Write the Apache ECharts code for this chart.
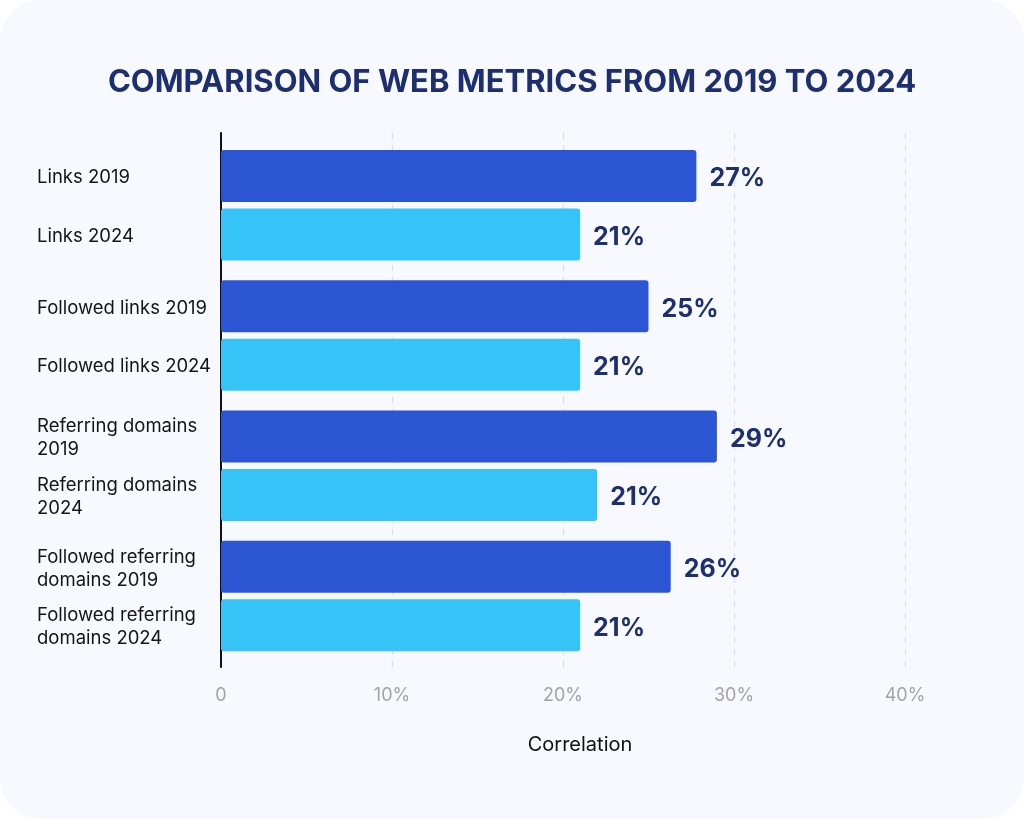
<!DOCTYPE html>
<html>
<head>
<meta charset="utf-8">
<script src="https://cdn.jsdelivr.net/npm/echarts@6/dist/echarts.min.js"></script>
<style>
  html, body { margin: 0; padding: 0; background: #ffffff; }
  #chart { width: 1024px; height: 819px; background: #f8f9fe; border-radius: 40px; overflow: hidden; }
</style>
</head>
<body>
<div id="chart"></div>
<script>
// one entry per bar pair
var names_2019 = ['Links 2019', 'Followed links 2019', 'Referring domains\n2019', 'Followed referring\ndomains 2019'];
var names_2024 = ['Links 2024', 'Followed links 2024', 'Referring domains\n2024', 'Followed referring\ndomains 2024'];
var values_2019 = [27.8, 25.0, 29.0, 26.3];
var values_2024 = [21.0, 21.0, 22.0, 21.0];
var labels_2019 = ['27%', '25%', '29%', '26%'];
var labels_2024 = ['21%', '21%', '21%', '21%'];
var x_ticks = [0, 10, 20, 30, 40];

var bar_width = 52;
var bar_pitch = 58.5;   // distance between centres of the two bars in a pair
var text_line = 23;

// spacer line between the two names of a pair, so each name sits on its bar
function pair_gap(i) {
    var n = names_2019[i].split('\n').length + names_2024[i].split('\n').length;
    return bar_pitch - text_line * n / 2;
}

function pair_label(i) {
    var lines = [];
    names_2019[i].split('\n').forEach(function (s) { lines.push('{t|' + s + '}'); });
    lines.push('{g' + i + '| }');
    names_2024[i].split('\n').forEach(function (s) { lines.push('{t|' + s + '}'); });
    return lines.join('\n');
}

var pair_keys = names_2019.map(function (n, i) { return String(i); });

var label_rich = {
    t: { fontFamily: 'Inter', fontSize: 18.5, lineHeight: text_line, color: '#151515', align: 'left' }
};
pair_keys.forEach(function (k, i) {
    label_rich['g' + i] = { fontSize: 8, lineHeight: pair_gap(i) };
});

var chart = echarts.init(document.getElementById('chart'));
chart.setOption({
    animation: false,
    title: {
        text: 'COMPARISON OF WEB METRICS FROM 2019 TO 2024',
        left: 'center', top: 62,
        textStyle: { fontFamily: 'Inter', fontWeight: 'bold', fontSize: 31, color: '#1d2f6f' }
    },
    grid: [
        { left: 221, right: 119, top: 133, bottom: 152 },
        { left: 221, right: 119, top: 140, bottom: 158 }
    ],
    xAxis: [
        {
            gridIndex: 0, type: 'value', min: x_ticks[0], max: x_ticks[x_ticks.length - 1], interval: 10,
            name: 'Correlation', nameLocation: 'middle', nameGap: 68,
            nameTextStyle: { fontFamily: 'Inter', fontSize: 20, color: '#111111', padding: [0, 0, 0, 34] },
            axisLine: { show: false }, axisTick: { show: false },
            splitLine: { show: true, lineStyle: { type: [6, 6], color: '#dcdde3', width: 1.2 } },
            axisLabel: {
                margin: 20, fontFamily: 'Inter', fontSize: 18, color: '#a3a3a8',
                formatter: function (v) { return v === 0 ? '0' : v + '%'; }
            }
        },
        {
            gridIndex: 1, type: 'value', min: x_ticks[0], max: x_ticks[x_ticks.length - 1], interval: 10,
            show: false
        }
    ],
    yAxis: [
        {
            gridIndex: 0, type: 'value', min: 0, max: 1,
            axisLine: { show: true, lineStyle: { color: '#111111', width: 2 } },
            axisTick: { show: false }, axisLabel: { show: false }, splitLine: { show: false }
        },
        {
            gridIndex: 1, type: 'category', inverse: true, data: pair_keys,
            axisLine: { show: false }, axisTick: { show: false },
            axisLabel: {
                align: 'left', margin: 184, padding: [4, 0, 0, 0],
                formatter: function (v) { return pair_label(+v); },
                rich: label_rich
            }
        }
    ],
    series: [
        {
            name: '2019', type: 'bar', xAxisIndex: 1, yAxisIndex: 1,
            barWidth: bar_width, barGap: ((bar_pitch - bar_width) / bar_width * 100) + '%',
            data: values_2019,
            itemStyle: { color: '#2c55d4', borderRadius: 3 },
            label: {
                show: true, position: 'right', distance: 13, offset: [0, 3],
                fontFamily: 'Inter', fontWeight: 'bold', fontSize: 25, color: '#1d2f6f',
                formatter: function (p) { return labels_2019[p.dataIndex]; }
            }
        },
        {
            name: '2024', type: 'bar', xAxisIndex: 1, yAxisIndex: 1,
            barWidth: bar_width,
            data: values_2024,
            itemStyle: { color: '#36c4f8', borderRadius: 3 },
            label: {
                show: true, position: 'right', distance: 13, offset: [0, 3],
                fontFamily: 'Inter', fontWeight: 'bold', fontSize: 25, color: '#1d2f6f',
                formatter: function (p) { return labels_2024[p.dataIndex]; }
            }
        }
    ]
});
</script>
</body>
</html>
